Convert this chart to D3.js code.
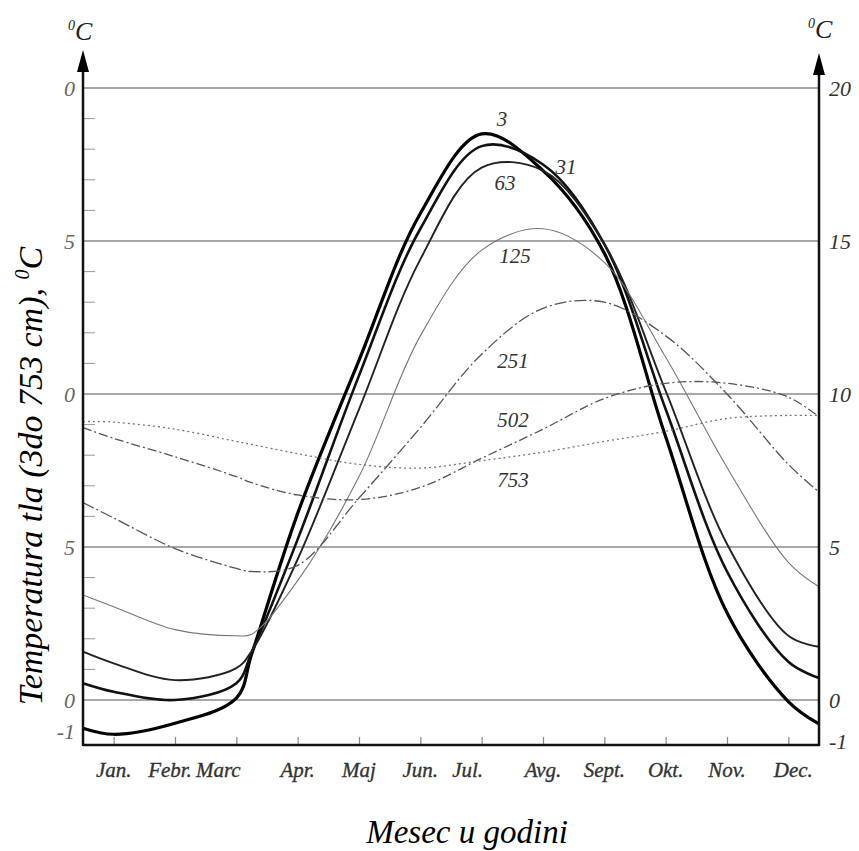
<!DOCTYPE html>
<html>
<head>
<meta charset="utf-8">
<script src="https://cdn.jsdelivr.net/npm/d3@7/dist/d3.min.js"></script>
<style>
  html, body { margin: 0; padding: 0; background: #fff; }
  svg { display: block; }
  text { font-family: "Liberation Serif", "Times New Roman", serif; font-style: italic; }
</style>
</head>
<body>
<script>
// ---------- data ----------
const months = ["Jan.", "Febr.", "Marc", "Apr.", "Maj", "Jun.", "Jul.", "Avg.", "Sept.", "Okt.", "Nov.", "Dec."];
// sample positions (month index; -0.5 and 11.5 are the frame edges)
const samplePos = [-0.5, 0, 1, 2, 2.25, 3, 4, 5, 6, 7, 8, 9, 10, 11, 11.5];
const depth3   = [-0.92, -1.12, -0.76, 0.06, 1.5, 6.1, 11.1, 15.9, 18.5, 17.3, 14.6, 8.6, 2.85, -0.05, -0.78];
const depth31  = [0.55, 0.27, 0.0, 0.55, 1.55, 5.25, 10.6, 15.4, 18.1, 17.5, 14.9, 9.5, 4.2, 1.25, 0.72];
const depth63  = [1.58, 1.2, 0.65, 1.04, 1.6, 4.6, 9.5, 14.4, 17.4, 17.3, 14.9, 10.1, 5.1, 2.1, 1.74];
const depth125 = [3.43, 3.05, 2.3, 2.1, 2.15, 3.9, 7.3, 11.9, 14.7, 15.4, 14.3, 11.2, 7.6, 4.5, 3.7];
const depth251 = [6.45, 5.95, 4.95, 4.3, 4.2, 4.4, 6.6, 8.9, 11.3, 12.8, 13.0, 11.9, 10.0, 7.7, 6.8];
const depth502 = [8.9, 8.55, 7.95, 7.3, 7.1, 6.7, 6.55, 6.95, 7.9, 8.85, 9.85, 10.35, 10.35, 9.9, 9.25];
const depth753 = [9.1, 9.08, 8.85, 8.45, 8.35, 8.05, 7.7, 7.58, 7.82, 8.1, 8.45, 8.78, 9.2, 9.3, 9.3];
const depthNames = ["3", "31", "63", "125", "251", "502", "753"];
const rightTicks = [20, 15, 10, 5, 0, -1];
const leftTickLabels = ["0", "5", "0", "5", "0", "-1"];
const gridValues = [20, 15, 10, 5, 0];
const minorTicks = [19, 18, 17, 16, 14, 13, 12, 11, 9, 8, 7, 6, 4, 3, 2, 1];

// ---------- layout ----------
const W = 859, H = 851;
const svg = d3.select("body").append("svg").attr("width", W).attr("height", H);

const x = d3.scaleLinear().domain([-0.5, 11.5]).range([83, 819]);
const y = d3.scaleLinear().domain([0, 20]).range([700, 88]);
const yBottom = 745;

// grid lines
svg.append("g").selectAll("line").data(gridValues).join("line")
  .attr("x1", x(-0.5)).attr("x2", x(11.5))
  .attr("y1", d => y(d)).attr("y2", d => y(d))
  .attr("stroke", "#a8a8a8").attr("stroke-width", 2);

// minor ticks on left axis
svg.append("g").selectAll("line").data(minorTicks).join("line")
  .attr("x1", x(-0.5)).attr("x2", x(-0.5) + 12)
  .attr("y1", d => y(d)).attr("y2", d => y(d))
  .attr("stroke", "#999").attr("stroke-width", 1);

// month ticks (upward) via d3 axis
const xAxis = d3.axisBottom(x).tickValues(d3.range(12)).tickSize(-8).tickFormat("");
const gx = svg.append("g").attr("transform", `translate(0,${yBottom})`).call(xAxis);
gx.select(".domain").remove();
gx.selectAll(".tick line").attr("stroke", "#888").attr("stroke-width", 1.2);

// month labels
const labelShift = { "Marc": -18, "Jul.": -14, "Febr.": -5, "Dec.": 5 };
svg.append("g").selectAll("text").data(months).join("text")
  .attr("x", (d, i) => x(i)).attr("dx", d => labelShift[d] || 0).attr("y", 777)
  .attr("text-anchor", "middle")
  .attr("font-size", 21).attr("fill", "#333").attr("stroke", "#333").attr("stroke-width", 0.35)
  .text(d => d);

// curves
const styles = [
  { w: 3.2, c: "#000", dash: null },
  { w: 2.6, c: "#111", dash: null },
  { w: 1.9, c: "#222", dash: null },
  { w: 1.1, c: "#777", dash: null },
  { w: 1.3, c: "#555", dash: "12,3,2,3" },
  { w: 1.3, c: "#555", dash: "9,3,2,3" },
  { w: 1.3, c: "#777", dash: "2,3" }
];
const series = [depth3, depth31, depth63, depth125, depth251, depth502, depth753];
const line = d3.line().x((d, i) => x(samplePos[i])).y(d => y(d)).curve(d3.curveCatmullRom.alpha(0.5));
svg.append("g").selectAll("path").data(series).join("path")
  .attr("d", d => line(d))
  .attr("fill", "none")
  .attr("stroke", (d, i) => styles[i].c)
  .attr("stroke-width", (d, i) => styles[i].w)
  .attr("stroke-dasharray", (d, i) => styles[i].dash)
  .attr("stroke-linejoin", "round");

// curve labels
const labelPos = [[502, 126], [566, 174], [505, 190], [515, 263], [513, 368], [513, 427], [513, 487]];
svg.append("g").selectAll("text").data(depthNames).join("text")
  .attr("x", (d, i) => labelPos[i][0]).attr("y", (d, i) => labelPos[i][1])
  .attr("text-anchor", "middle").attr("font-size", 21).attr("fill", "#333")
  .text(d => d);

// axes frame
svg.append("line").attr("x1", x(-0.5)).attr("x2", x(11.5)).attr("y1", yBottom).attr("y2", yBottom)
  .attr("stroke", "#111").attr("stroke-width", 2.5);
svg.append("line").attr("x1", x(-0.5)).attr("x2", x(-0.5)).attr("y1", 70).attr("y2", yBottom + 1)
  .attr("stroke", "#111").attr("stroke-width", 2.5);
svg.append("line").attr("x1", x(11.5)).attr("x2", x(11.5)).attr("y1", 72).attr("y2", yBottom + 1)
  .attr("stroke", "#111").attr("stroke-width", 2.5);
// arrows
function arrow(cx, tip) {
  svg.append("path").attr("d", `M${cx},${tip} L${cx - 6},${tip + 22} L${cx + 6},${tip + 22} Z`).attr("fill", "#000");
}
arrow(x(-0.5), 50);
arrow(x(11.5), 53);

// left tick labels
svg.append("g").selectAll("text").data(rightTicks).join("text")
  .attr("x", 75).attr("y", d => y(d) + 8)
  .attr("text-anchor", "end").attr("font-size", 22).attr("fill", "#666")
  .text((d, i) => leftTickLabels[i]);
// right tick labels
svg.append("g").selectAll("text").data(rightTicks).join("text")
  .attr("x", 829).attr("y", d => y(d) + 8 + (d < 0 ? 10 : 0))
  .attr("text-anchor", "start").attr("font-size", 22).attr("fill", "#333")
  .text(d => d < 0 ? "-1" : d);

// unit labels
function unit(xp, yp) {
  const t = svg.append("text").attr("x", xp).attr("y", yp).attr("font-size", 26).attr("fill", "#222");
  t.append("tspan").attr("font-size", 14).attr("dy", -10).text("0");
  t.append("tspan").attr("dy", 10).text("C");
}
unit(68, 40);
unit(808, 38);

// axis titles
svg.append("text")
  .attr("transform", "translate(42,476) rotate(-90)")
  .attr("text-anchor", "middle").attr("font-size", 34).attr("fill", "#000")
  .call(t => {
    t.append("tspan").text("Temperatura tla (3do 753 cm), ");
    t.append("tspan").attr("font-size", 20).attr("dy", -13).text("0");
    t.append("tspan").attr("dy", 13).text("C");
  });
svg.append("text").attr("x", 467).attr("y", 843)
  .attr("text-anchor", "middle").attr("font-size", 33).attr("fill", "#000")
  .text("Mesec u godini");
</script>
</body>
</html>
